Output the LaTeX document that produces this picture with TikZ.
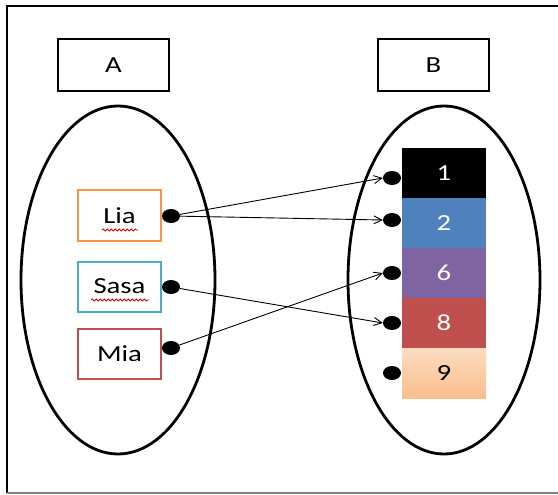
\documentclass[tikz,border=0pt]{standalone}
\usepackage{fontspec}
\setmainfont{Carlito}[FakeStretch=1.25]
\usetikzlibrary{arrows.meta,decorations.pathmorphing,shapes.geometric}
\definecolor{liaorange}{HTML}{F79646}
\definecolor{sasablue}{HTML}{4BACC6}
\definecolor{miared}{HTML}{C0504D}
\definecolor{valblue}{HTML}{4F81BD}
\definecolor{valpurple}{HTML}{8064A2}
\definecolor{valred}{HTML}{C0504D}
\definecolor{peachtop}{HTML}{FCDCC2}
\definecolor{peachbot}{HTML}{F9BE8C}
\tikzset{
	setbox/.style={draw,line width=2.5pt,minimum width=111pt,minimum height=52pt,inner sep=0pt},
	namebox/.style={draw=#1,line width=2pt,fill=white,minimum width=83pt,minimum height=50pt,inner sep=0pt},
	valbox/.style={fill=#1,minimum width=84pt,minimum height=50pt,inner sep=0pt},
	blob/.style={fill,ellipse,minimum width=18pt,minimum height=14pt,inner sep=0pt},
	link/.style={line width=0.9pt,-{Straight Barb[length=8pt,width=8pt]}},
	squiggle/.style={red!85!black,line width=0.8pt,decorate,decoration={snake,amplitude=1pt,segment length=4pt}}
}
\begin{document}
\begin{tikzpicture}[x=1pt,y=-1pt,font=\fontsize{23}{26}\selectfont]
	\useasboundingbox (0,0) rectangle (558,495);
	% frame
	\draw[line width=2.5pt] (558,6) -- (7,6) -- (7,493);
	\draw[gray,line width=1.5pt] (7,493) -- (558,493);
	% the two sets
	\node[setbox] (a) at (113.5,65) {A};
	\node[setbox] (b) at (433.5,65) {B};
	\draw[line width=2.8pt] (118,280) ellipse [x radius=97, y radius=174];
	\draw[line width=2.8pt] (444,280) ellipse [x radius=96, y radius=174];
	% domain
	\node[namebox=liaorange] (lia) at (119.5,215.5) {Lia};
	\node[namebox=sasablue] (sasa) at (119.5,286.5) {Sasa};
	\node[namebox=miared] (mia) at (119.5,353.5) {Mia};
	\draw[squiggle] (102,230) -- (138,230);
	\draw[squiggle] (91,300) -- (149,300);
	\node[blob] (dlia) at (171,216) {};
	\node[blob] (dsasa) at (171,287) {};
	\node[blob] (dmia) at (171,348) {};
	% codomain
	\node[valbox=black,text=white] (v1) at (444,173) {1};
	\node[valbox=valblue,text=white] (v2) at (444,223) {2};
	\node[valbox=valpurple,text=white] (v6) at (444,273) {6};
	\node[valbox=valred,text=white] (v8) at (444,323) {8};
	\node[valbox=peachbot,top color=peachtop,bottom color=peachbot] (v9) at (444,373) {9};
	\node[blob] (d1) at (392,178) {};
	\node[blob] (d2) at (392,220) {};
	\node[blob] (d6) at (392,273) {};
	\node[blob] (d8) at (392,323) {};
	\node[blob] (d9) at (392,373) {};
	% mapping
	\path (dlia) edge[link] (d1.west);
	\path (dlia) edge[link] (d2.west);
	\path (dsasa) edge[link] (d8.west);
	\path (dmia) edge[link] (d6.west);
\end{tikzpicture}
\end{document}
